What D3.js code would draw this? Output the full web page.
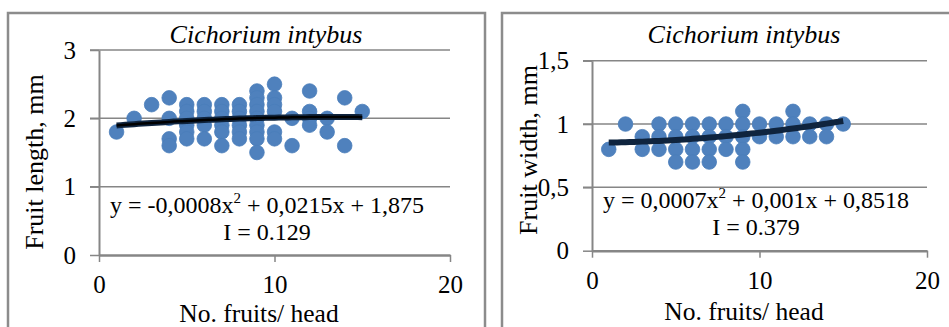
<!DOCTYPE html>
<html>
<head>
<meta charset="utf-8">
<script src="https://cdn.jsdelivr.net/npm/d3@7"></script>
<style>
  body { margin: 0; background: #fff; }
</style>
</head>
<body>
<div id="rootDiv"></div>
<script>
// fruits per head (x) and measured values per x
const fruitsPerHead = [1, 2, 3, 4, 5, 6, 7, 8, 9, 10, 11, 12, 13, 14, 15]

const fruitLength = [
    [1.8],
    [2.0],
    [2.2],
    [2.3, 2.0, 1.7, 1.6],
    [2.2, 2.1, 2.0, 1.9, 1.8, 1.7],
    [2.2, 2.1, 2.0, 1.9, 1.7],
    [2.2, 2.1, 2.0, 1.9, 1.8, 1.6],
    [2.2, 2.1, 2.0, 1.9, 1.8, 1.7],
    [2.4, 2.3, 2.2, 2.1, 2.0, 1.9, 1.8, 1.7, 1.5],
    [2.5, 2.3, 2.2, 2.1, 1.8, 1.7],
    [2.0, 1.6],
    [2.4, 2.1, 2.0, 1.9],
    [2.0, 1.8],
    [2.3, 1.6],
    [2.1],
]

const fruitWidth = [
    [0.8],
    [1.0],
    [0.9, 0.8],
    [1.0, 0.9, 0.8],
    [1.0, 0.9, 0.8, 0.7],
    [1.0, 0.9, 0.8, 0.7],
    [1.0, 0.9, 0.8, 0.7],
    [1.0, 0.9, 0.8],
    [1.1, 1.0, 0.9, 0.8, 0.7],
    [1.0, 0.9],
    [1.0, 0.9],
    [1.1, 1.0, 0.9],
    [1.0, 0.9],
    [1.0, 0.9],
    [1.0],
]

// polynomial trend coefficients [a, b, c] for a*x^2 + b*x + c
const lengthFit = [-0.0008, 0.0215, 1.875]
const widthFit = [0.0007, 0.001, 0.8518]

const xTicks = [0, 10, 20]
const lengthTicks = [0, 1, 2, 3]
const widthTicks = [0, 0.5, 1, 1.5]

const blue = "#4F81BD"
const navy = "#0F243E"
const grey = "#868686"
const serif = "Liberation Serif, DejaVu Serif"

const svg = d3.select(document.getElementById("rootDiv"))
    .append("svg")
    .attr("width", 949)
    .attr("height", 327)
    .style("font-family", serif)

svg.append("rect").attr("width", 949).attr("height", 327).attr("fill", "#fff")

// panel frames
svg.append("rect")
    .attr("x", 8).attr("y", 13).attr("width", 477).attr("height", 340)
    .attr("fill", "none").attr("stroke", "#8c8c8c").attr("stroke-width", 2.5)
svg.append("rect")
    .attr("x", 502).attr("y", 13).attr("width", 470).attr("height", 340)
    .attr("fill", "none").attr("stroke", "#8c8c8c").attr("stroke-width", 2.5)

function flatten(values) {
    const pts = []
    values.forEach((col, i) => col.forEach(v => pts.push([fruitsPerHead[i], v])))
    return pts
}

function drawChart(cfg) {
    const x = d3.scaleLinear().domain([0, 20]).range(cfg.xRange)
    const y = d3.scaleLinear().domain(cfg.yDomain).range(cfg.yRange)
    const g = svg.append("g")

    // gridlines
    g.selectAll("line.grid")
        .data(cfg.yTicks.slice(1))
        .enter()
        .append("line")
        .attr("class", "grid")
        .attr("x1", x(0) - 9)
        .attr("x2", x(20))
        .attr("y1", d => y(d))
        .attr("y2", d => y(d))
        .attr("stroke", grey)
        .attr("stroke-width", 1.5)

    // y axis
    const yAxis = g.append("g")
        .attr("transform", `translate(${x(0)},0)`)
        .call(d3.axisLeft(y).tickValues(cfg.yTicks).tickSize(9).tickSizeOuter(0).tickPadding(14)
            .tickFormat(d => String(d).replace(".", ",")))

    // x axis
    const xAxis = g.append("g")
        .attr("transform", `translate(0,${y(0)})`)
        .call(d3.axisBottom(x).tickValues(xTicks).tickSize(7).tickSizeOuter(0).tickPadding(cfg.xPad))

    for (const axis of [xAxis, yAxis]) {
        axis.attr("font-family", null).attr("font-size", null)
        axis.selectAll("line").style("stroke", grey).style("stroke-width", 1.5)
        axis.selectAll("path").style("stroke", grey).style("stroke-width", 2)
        axis.selectAll("text").style("fill", "#000").style("font-size", "25px").style("font-family", serif)
    }
    xAxis.select("path").style("stroke-width", 2.5)

    // points
    g.selectAll("circle")
        .data(flatten(cfg.values))
        .enter()
        .append("circle")
        .attr("cx", d => x(d[0]))
        .attr("cy", d => y(d[1]))
        .attr("r", 7.3)
        .attr("fill", blue)
        .attr("stroke", "#4A7DBA")
        .attr("stroke-width", 0.8)

    // trend line
    const [a, b, c] = cfg.fit
    const trend = d3.range(1, 15.001, 0.25).map(t => [t, a * t * t + b * t + c])
    const line = d3.line().x(d => x(d[0])).y(d => y(d[1]))
    g.append("path")
        .attr("d", line(trend))
        .attr("fill", "none")
        .attr("stroke", navy)
        .attr("stroke-width", 6)
    if (cfg.blackCore) {
        g.append("path")
            .attr("d", line(trend))
            .attr("fill", "none")
            .attr("stroke", "#000")
            .attr("stroke-width", 2.5)
    }

    // title
    g.append("text")
        .attr("x", cfg.titleX).attr("y", 43)
        .attr("text-anchor", "middle")
        .style("font-size", "26px").style("font-style", "italic")
        .text("Cichorium intybus")

    // equation
    const eq = g.append("text")
        .attr("x", cfg.eqX).attr("y", cfg.eqY)
        .attr("text-anchor", "middle")
        .style("font-size", "24px")
    eq.append("tspan").text(cfg.eq[0])
    eq.append("tspan").attr("dy", -10).style("font-size", "15px").text("2")
    eq.append("tspan").attr("dy", 10).text(cfg.eq[1])

    g.append("text")
        .attr("x", cfg.eqX).attr("y", cfg.eqY + 27)
        .attr("text-anchor", "middle")
        .style("font-size", "24px")
        .text(cfg.index)

    // axis titles
    g.append("text")
        .attr("x", cfg.xTitleX).attr("y", cfg.xTitleY)
        .attr("text-anchor", "middle")
        .style("font-size", "25.5px")
        .text("No. fruits/ head")

    g.append("text")
        .attr("transform", `translate(${cfg.yTitleX},${cfg.yTitleY}) rotate(-90)`)
        .attr("text-anchor", "middle")
        .style("font-size", "26px")
        .text(cfg.yTitle)
}

drawChart({
    xRange: [99, 450], yDomain: [0, 3], yRange: [255, 50], yTicks: lengthTicks,
    values: fruitLength, fit: lengthFit, blackCore: true, xPad: 13,
    titleX: 266, eqX: 267, eqY: 213,
    eq: ["y = -0,0008x", " + 0,0215x + 1,875"], index: "I = 0.129",
    xTitleX: 259, xTitleY: 322, yTitleX: 43, yTitleY: 162, yTitle: "Fruit length, mm",
})

drawChart({
    xRange: [592, 927], yDomain: [0, 1.5], yRange: [250.7, 60.7], yTicks: widthTicks,
    values: fruitWidth, fit: widthFit, blackCore: false, xPad: 14,
    titleX: 744, eqX: 756, eqY: 208,
    eq: ["y = 0,0007x", " + 0,001x + 0,8518"], index: "I = 0.379",
    xTitleX: 744, xTitleY: 320, yTitleX: 537, yTitleY: 150, yTitle: "Fruit width, mm",
})
</script>
</body>
</html>
